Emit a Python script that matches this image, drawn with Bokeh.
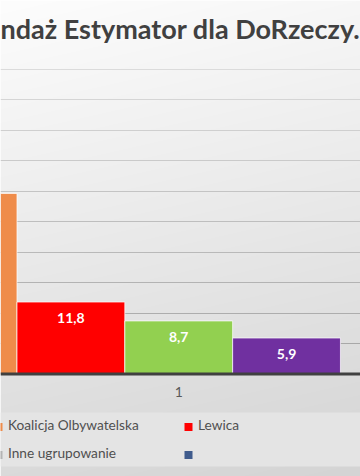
import numpy as np
from bokeh.plotting import figure
from bokeh.models import Range1d, Span, Label, BoxAnnotation, Grid, FixedTicker, ColumnDataSource
from bokeh.core.properties import value
from bokeh.embed import file_html
from bokeh.resources import INLINE

# --- data -------------------------------------------------------------
title_text = "ndaż Estymator dla DoRzeczy."
categories = ["1"]
bar_values = [29.6, 11.8, 8.7, 5.9]
bar_colors = ["#EF8C4A", "#FF0000", "#92D050", "#7030A0"]
bar_labelled = [False, True, True, True]
legend_labels = ["Koalicja Olbywatelska", "Lewica", "Inne ugrupowanie", ""]
legend_colors = ["#EF8C4A", "#FF0000", "#B4B4B4", "#3F5B8C"]
grid_ticks = [5, 10, 15, 20, 25, 30, 35, 40, 45, 50]

W, H = 360, 476
FONT = "Lato"

# bars of the cluster are placed one unit apart around the category centre
offsets = np.arange(len(bar_values)) - 2

p = figure(width=W, height=H, output_backend="svg", toolbar_location=None,
           x_range=Range1d(-1.653, 1.686), y_range=Range1d(-16.80, 61.23),
           x_axis_location=None, y_axis_location=None, min_border=0)
p.grid.visible = False
p.outline_line_color = None
p.border_fill_color = "#ffffff"

# soft light-grey background gradient
yy, xx = np.mgrid[0:H, 0:W]
shade = 253.0 - 35.0 * (yy / H) - 6.0 * (xx / W)
shade = np.clip(shade, 0, 255).astype(np.uint8)[::-1]
img = np.empty((H, W), dtype=np.uint32)
view = img.view(dtype=np.uint8).reshape((H, W, 4))
view[:, :, 0] = shade
view[:, :, 1] = shade
view[:, :, 2] = shade
view[:, :, 3] = 255
p.image_rgba(image=[img], x=-1.653, y=-16.80, dw=1.686 + 1.653, dh=61.23 + 16.80, level="image")

# horizontal gridlines, lighter towards the top
top_c = np.array([0xDB, 0xDB, 0xDB])
bot_c = np.array([0xA8, 0xA8, 0xA8])
for t in grid_ticks:
    f = (t - grid_ticks[0]) / (grid_ticks[-1] - grid_ticks[0])
    c = (bot_c + (top_c - bot_c) * f).astype(int)
    g = Grid(dimension=1, ticker=FixedTicker(ticks=[t]),
             grid_line_color="#%02x%02x%02x" % tuple(c), grid_line_width=1)
    p.add_layout(g)

src = ColumnDataSource(dict(x=offsets, top=bar_values, color=bar_colors))
p.vbar(x="x", top="top", bottom=0, width=1.0, fill_color="color",
       line_color="#ffffff", line_alpha=0.7, line_width=1, source=src)

lab_x = [o for o, s in zip(offsets, bar_labelled) if s]
lab_y = [v for v, s in zip(bar_values, bar_labelled) if s]
lab_t = [("%.1f" % v).replace(".", ",") for v, s in zip(bar_values, bar_labelled) if s]
p.text(x=lab_x, y=lab_y, text=lab_t, y_offset=16, text_align="center",
       text_baseline="middle", text_color="#ffffff", text_font_size="14px",
       text_font_style="bold", text_font=value(FONT))

# category axis line and its label
p.add_layout(Span(location=0, dimension="width", line_color="#404040", line_width=3))
p.add_layout(Label(x=0, y=H - 391, y_units="screen", text=categories[0],
                   text_align="center", text_baseline="middle",
                   text_color="#595959", text_font_size="14px", text_font=FONT))

# title
p.add_layout(Label(x=0, y=H - 28, x_units="screen", y_units="screen",
                   text=title_text, text_align="left", text_baseline="middle",
                   text_color="#404040", text_font_size="27px",
                   text_font_style="bold", text_font=FONT))

# legend band and entries (two columns, two rows)
p.add_layout(BoxAnnotation(left=0, right=W, bottom=H - 466, top=H - 412,
                           left_units="screen", right_units="screen",
                           bottom_units="screen", top_units="screen",
                           fill_color="#E4E4E4", fill_alpha=1.0, line_color=None))
col_x = [-6, 184]
row_y = [426.5, 454.5]
for i, (lbl, col) in enumerate(zip(legend_labels, legend_colors)):
    cx = col_x[i % 2]
    cy = row_y[i // 2]
    p.add_layout(BoxAnnotation(left=cx, right=cx + 8, bottom=H - (cy + 4), top=H - (cy - 4),
                               left_units="screen", right_units="screen",
                               bottom_units="screen", top_units="screen",
                               fill_color=col, fill_alpha=1.0, line_color=None))
    if lbl:
        p.add_layout(Label(x=cx + 13.5, y=H - (cy - 2.5), x_units="screen", y_units="screen",
                           text=lbl, text_align="left", text_baseline="middle",
                           text_color="#505050", text_font_size="13.7px", text_font=FONT))

open("out.html", "w").write(file_html(p, INLINE))
